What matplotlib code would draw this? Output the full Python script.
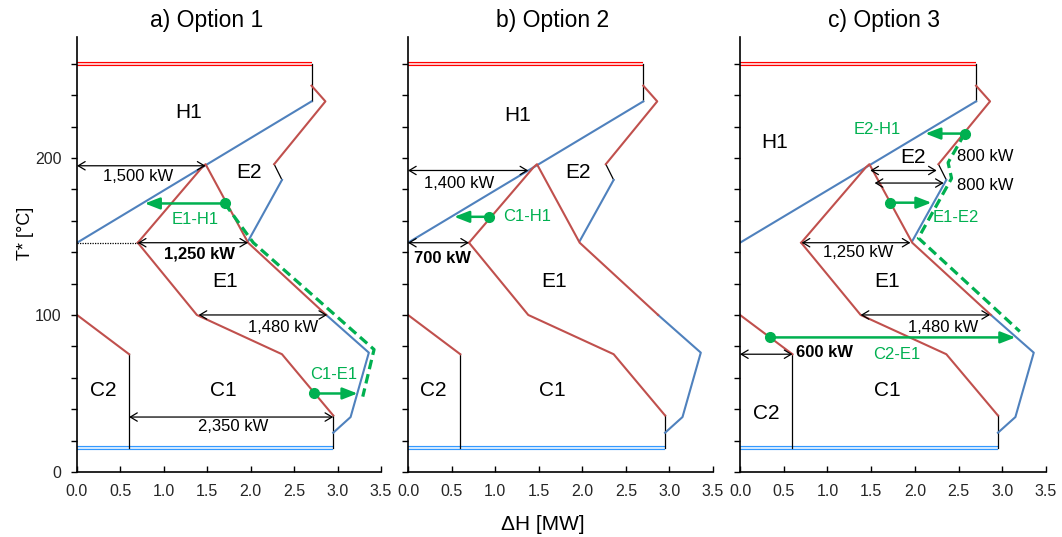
import matplotlib
matplotlib.use("Agg")
import matplotlib.pyplot as plt
from matplotlib.ticker import MultipleLocator

plt.rcParams['font.family'] = ['Liberation Sans', 'DejaVu Sans']

# composite curve pieces (x in MW, T* in degC), same in every option
hu_x = [0.0, 2.70]; hu_t = [260, 260]
cu_x = [0.0, 2.95]; cu_t = [15, 15]
h1_blue_x = [0.0, 2.70]; h1_blue_t = [146, 236]
h1_black_x = [2.70, 2.70]; h1_black_t = [260, 236]
e2_red_x = [2.70, 2.86, 2.27]; e2_red_t = [246, 236, 196]
e2_black_x = [2.27, 2.36]; e2_black_t = [196, 186]
e2_blue_x = [2.36, 1.97]; e2_blue_t = [186, 147]
e1_red_x = [0.70, 1.44, 1.48, 1.97, 2.87]; e1_red_t = [146, 194, 196, 146, 100]
c1_red_x = [0.70, 1.38, 2.36, 2.95]; c1_red_t = [146, 100, 75, 36]
c1_black_x = [2.95, 2.95]; c1_black_t = [36, 15]
c1_blue_x = [2.95, 3.15, 3.36, 2.87]; c1_blue_t = [25, 35, 76, 100]
c2_red_x = [0.0, 0.60]; c2_red_t = [100, 75]
c2_black_x = [0.60, 0.60]; c2_black_t = [75, 15]

# green heat-integration paths
dash_a_x = [1.70, 2.03, 3.42, 3.29]; dash_a_t = [171, 146, 78, 48]
dash_c_x = [2.57, 2.38, 2.42, 2.04, 3.20]; dash_c_t = [215.5, 197, 187, 149, 89.5]

titles = ['a) Option 1', 'b) Option 2', 'c) Option 3']
title_px = [207, 553, 884]
zones = ['H1', 'E2', 'E1', 'C1', 'C2']

RED = '#C0504D'
BLUE = '#4F81BD'
GREEN = '#00B050'
FS = 12

fig = plt.figure(figsize=(10.62, 5.37), dpi=100)
W, H = 1062, 537
lefts = [77, 408, 740]
widths = [304, 305, 306]
axs = [fig.add_axes([l / W, 65 / H, w / W, 435 / H]) for l, w in zip(lefts, widths)]


def dim(ax, x0, x1, y, txt=None, tx=None, ty=None, bold=False, ha='center'):
    ax.annotate('', xy=(x1, y), xytext=(x0, y),
                arrowprops=dict(arrowstyle='<->,head_length=0.5,head_width=0.3',
                                color='black', lw=0.9, shrinkA=0, shrinkB=0))
    if txt:
        ax.text(tx, ty, txt, fontsize=FS, ha=ha, va='center',
                fontweight='bold' if bold else 'normal')


def gar(ax, x0, x1, y, txt, tx, ty, ha='center'):
    ax.annotate('', xy=(x1, y), xytext=(x0, y),
                arrowprops=dict(arrowstyle='-|>,head_length=0.9,head_width=0.35',
                                color=GREEN, lw=1.8, shrinkA=0, shrinkB=0))
    ax.plot(x0, y, 'o', color=GREEN, ms=7, zorder=5)
    ax.text(tx, ty, txt, fontsize=FS, color=GREEN, ha=ha, va='center')


for i, ax in enumerate(axs):
    ax.plot(hu_x, hu_t, color='#FF0000', lw=3.0, solid_capstyle='butt')
    ax.plot(hu_x, hu_t, color='white', lw=1.1, solid_capstyle='butt')
    ax.plot(cu_x, cu_t, color='#3399FF', lw=3.0, solid_capstyle='butt')
    ax.plot(cu_x, cu_t, color='white', lw=1.1, solid_capstyle='butt')
    for xs, ts in [(h1_black_x, h1_black_t), (e2_black_x, e2_black_t),
                   (c1_black_x, c1_black_t), (c2_black_x, c2_black_t)]:
        ax.plot(xs, ts, color='black', lw=0.9)
    for xs, ts in [(h1_blue_x, h1_blue_t), (e2_blue_x, e2_blue_t), (c1_blue_x, c1_blue_t)]:
        ax.plot(xs, ts, color=BLUE, lw=1.5)
    for xs, ts in [(e2_red_x, e2_red_t), (e1_red_x, e1_red_t),
                   (c1_red_x, c1_red_t), (c2_red_x, c2_red_t)]:
        ax.plot(xs, ts, color=RED, lw=1.5)

    ax.set_xlim(0, 3.5)
    ax.set_ylim(0, 277)
    ax.xaxis.set_major_locator(MultipleLocator(0.5))
    ax.yaxis.set_major_locator(MultipleLocator(100))
    ax.yaxis.set_minor_locator(MultipleLocator(20))
    ax.xaxis.set_major_formatter(matplotlib.ticker.FormatStrFormatter('%.1f'))
    for s in ['top', 'right']:
        ax.spines[s].set_visible(False)
    for s in ['left', 'bottom']:
        ax.spines[s].set_linewidth(1.2)
    ax.tick_params(axis='x', direction='in', length=4, width=1, pad=9,
                   labelsize=11.5, labelcolor='#262626')
    ax.tick_params(axis='y', which='both', direction='out', length=4, width=1,
                   pad=7, labelsize=11.5, labelcolor='#262626')
    if i > 0:
        ax.tick_params(axis='y', labelleft=False)
    fig.text(title_px[i] / W, 1 - 20 / H, titles[i], fontsize=16.5,
             ha='center', va='center')

# a) Option 1
ax = axs[0]
for z, (x, y) in zip(zones, [(1.28, 229), (1.98, 191), (1.71, 121), (1.69, 52), (0.30, 52)]):
    ax.text(x, y, z, fontsize=15, ha='center', va='center')
ax.plot([0, 0.70], [146, 146], color='black', lw=0.9, ls=(0, (1, 1)))
dim(ax, 0.0, 1.48, 195, '1,500 kW', 0.70, 188)
dim(ax, 0.70, 1.97, 146, '1,250 kW', 1.41, 139, bold=True)
dim(ax, 1.40, 2.88, 100, '1,480 kW', 2.37, 92)
dim(ax, 0.60, 2.95, 35, '2,350 kW', 1.80, 29)
ax.plot(dash_a_x, dash_a_t, color=GREEN, lw=2.3, ls=(0, (3, 1.6)))
gar(ax, 1.70, 0.78, 171, 'E1-H1', 1.36, 160.5)
gar(ax, 2.73, 3.23, 50, 'C1-E1', 2.96, 62)

# b) Option 2
ax = axs[1]
for z, (x, y) in zip(zones, [(1.26, 227), (1.95, 191), (1.68, 121.5), (1.66, 52), (0.29, 52)]):
    ax.text(x, y, z, fontsize=15, ha='center', va='center')
dim(ax, 0.0, 1.38, 192, '1,400 kW', 0.59, 184)
dim(ax, 0.0, 0.70, 146, '700 kW', 0.40, 136, bold=True)
gar(ax, 0.93, 0.53, 162.5, 'C1-H1', 1.09, 162.5, ha='left')

# c) Option 3
ax = axs[2]
for z, (x, y) in zip(zones, [(0.40, 210), (1.98, 200), (1.68, 121.5), (1.68, 52), (0.30, 37.5)]):
    ax.text(x, y, z, fontsize=15, ha='center', va='center')
dim(ax, 1.49, 2.25, 192, '800 kW', 2.48, 201, ha='left')
dim(ax, 1.54, 2.33, 184, '800 kW', 2.48, 182.7, ha='left')
dim(ax, 0.705, 1.95, 146, '1,250 kW', 1.35, 140)
dim(ax, 1.38, 2.86, 100, '1,480 kW', 2.32, 92)
dim(ax, 0.0, 0.60, 75, '600 kW', 0.64, 76, bold=True, ha='left')
ax.plot(dash_c_x, dash_c_t, color=GREEN, lw=2.3, ls=(0, (3, 1.6)))
gar(ax, 2.57, 2.12, 215.5, 'E2-H1', 1.57, 218)
gar(ax, 1.71, 2.19, 171.5, 'E1-E2', 2.47, 162)
gar(ax, 0.34, 3.15, 85.7, 'C2-E1', 1.79, 74.7)

fig.text(26 / W, 1 - 233 / H, 'T* [°C]', fontsize=13, rotation=90, ha='center', va='center')
fig.text(543 / W, 1 - 524 / H, 'ΔH [MW]', fontsize=15, ha='center', va='center')

fig.savefig('out.png', dpi=100)
